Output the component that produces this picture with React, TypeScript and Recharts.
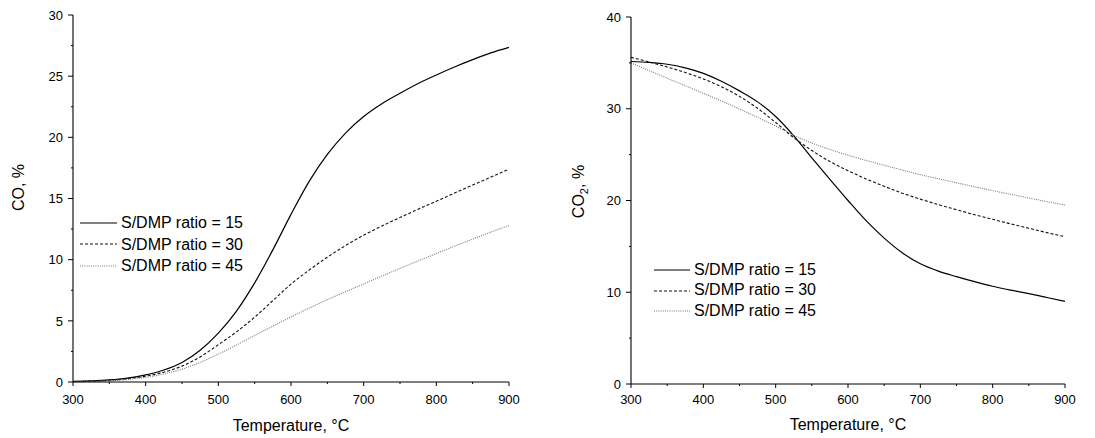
import React from 'react';
import { LineChart, Line, XAxis, YAxis, Legend, Label } from 'recharts';

const temps = [300, 325, 350, 375, 400, 425, 450, 475, 500, 525, 550, 575, 600, 625, 650, 675, 700, 725, 750, 775, 800, 825, 850, 875, 900];

const coS15 = [0.05, 0.09, 0.17, 0.32, 0.58, 0.98, 1.6, 2.6, 4.0, 5.8, 8.1, 10.8, 13.7, 16.4, 18.6, 20.35, 21.7, 22.75, 23.6, 24.4, 25.1, 25.75, 26.35, 26.9, 27.35];
const coS30 = [0.03, 0.07, 0.14, 0.27, 0.48, 0.8, 1.3, 2.05, 3.05, 4.1, 5.3, 6.65, 8.0, 9.15, 10.2, 11.15, 12.0, 12.75, 13.45, 14.12, 14.78, 15.44, 16.1, 16.75, 17.4];
const coS45 = [0.02, 0.05, 0.1, 0.2, 0.38, 0.65, 1.05, 1.6, 2.28, 3.03, 3.8, 4.57, 5.32, 6.04, 6.73, 7.38, 8.02, 8.66, 9.28, 9.9, 10.5, 11.1, 11.68, 12.25, 12.8];

const co2S15 = [35.15, 35.05, 34.85, 34.45, 33.85, 33.0, 31.95, 30.75, 29.15, 27.05, 24.65, 22.3, 20.0, 17.8, 15.9, 14.3, 13.1, 12.3, 11.7, 11.15, 10.65, 10.23, 9.85, 9.43, 9.0];
const co2S30 = [35.6, 35.1, 34.55, 33.95, 33.25, 32.4, 31.35, 30.05, 28.5, 26.85, 25.45, 24.25, 23.25, 22.35, 21.55, 20.8, 20.15, 19.55, 19.0, 18.45, 17.95, 17.45, 16.97, 16.5, 16.05];
const co2S45 = [35.0, 34.16, 33.33, 32.51, 31.69, 30.85, 29.98, 29.07, 28.11, 27.1, 26.26, 25.56, 24.94, 24.37, 23.84, 23.32, 22.82, 22.37, 21.93, 21.5, 21.08, 20.67, 20.27, 19.88, 19.5];

const seriesNames = ['S/DMP ratio = 15', 'S/DMP ratio = 30', 'S/DMP ratio = 45'];
const xTicks = [300, 350, 400, 450, 500, 550, 600, 650, 700, 750, 800, 850, 900];
const coTicks = [0, 2.5, 5, 7.5, 10, 12.5, 15, 17.5, 20, 22.5, 25, 27.5, 30];
const co2Ticks = [0, 5, 10, 15, 20, 25, 30, 35, 40];

const FONT = "Arial, 'Liberation Sans', Helvetica, sans-serif";

const styles = [
  { stroke: '#000', dash: undefined as string | undefined, width: 1.2 },
  { stroke: '#111', dash: '3 2', width: 1.1 },
  { stroke: '#777', dash: '1 1.2', width: 1.1 },
];

const buildRows = (a: number[], b: number[], c: number[]) =>
  temps.map((t, i) => ({ t, s15: a[i], s30: b[i], s45: c[i] }));

const coRows = buildRows(coS15, coS30, coS45);
const co2Rows = buildRows(co2S15, co2S30, co2S45);

const XTick = (props: any) => {
  const { x, y, payload, off } = props;
  const v = payload.value;
  const major = v % 100 === 0;
  return (
    <g>
      <line x1={x} x2={x} y1={y} y2={y + (major ? 4 : 2)} stroke="#000" strokeWidth={1} />
      {major && (
        <text x={x} y={y + off} textAnchor="middle" fontSize={13} fill="#000" fontFamily={FONT}>
          {v}
        </text>
      )}
    </g>
  );
};

const YTick = (props: any) => {
  const { x, y, payload, step } = props;
  const v = payload.value;
  const major = Math.abs(v / step - Math.round(v / step)) < 1e-6;
  return (
    <g>
      <line x1={x - (major ? 5 : 2)} x2={x} y1={y} y2={y} stroke="#000" strokeWidth={1} />
      {major && (
        <text x={x - 10} y={y} dy="0.36em" textAnchor="end" fontSize={13} fill="#000" fontFamily={FONT}>
          {v}
        </text>
      )}
    </g>
  );
};

const LegendBox = ({ lineLen, rowH }: { lineLen: number; rowH: number }) => (
  <div style={{ fontFamily: FONT, fontSize: 16, color: '#000' }}>
    {seriesNames.map((n, i) => (
      <div key={n} style={{ display: 'flex', alignItems: 'center', height: rowH, whiteSpace: 'nowrap' }}>
        <svg width={lineLen + 4} height={10} style={{ display: 'block' }}>
          <line x1={0} x2={lineLen} y1={5} y2={5} stroke={styles[i].stroke} strokeWidth={styles[i].width} strokeDasharray={styles[i].dash} />
        </svg>
        <span style={{ lineHeight: rowH + 'px' }}>{n}</span>
      </div>
    ))}
  </div>
);

type PanelProps = {
  rows: any[];
  yTicks: number[];
  yMax: number;
  yStep: number;
  margin: { top: number; right: number; bottom: number; left: number };
  yWidth: number;
  xHeight: number;
  tickOff: number;
  xTitleOff: number;
  yTitleX: number;
  yTitleDy: number;
  sub: boolean;
  legendLeft: number;
  legendTop: number;
  legendLine: number;
  legendRow: number;
};

const Panel = (p: PanelProps) => (
  <LineChart width={540} height={438} data={p.rows} margin={p.margin} style={{ background: '#fff' }}>
    <XAxis
      dataKey="t"
      type="number"
      domain={[300, 900]}
      ticks={xTicks}
      interval={0}
      height={p.xHeight}
      tickSize={0}
      tickMargin={0}
      tickLine={false}
      axisLine={{ stroke: '#000', strokeWidth: 1.1 }}
      tick={(tp: any) => <XTick {...tp} off={p.tickOff} />}
    >
      <Label
        content={(lp: any) => {
          const vb = lp.viewBox || { x: p.margin.left + p.yWidth, y: 438 - p.xHeight, width: 540 - p.margin.left - p.yWidth - p.margin.right, height: p.xHeight };
          return (
            <text x={vb.x + vb.width / 2} y={vb.y + p.xTitleOff} textAnchor="middle" fontSize={16} fill="#000" fontFamily={FONT}>
              Temperature, °C
            </text>
          );
        }}
      />
    </XAxis>
    <XAxis
      xAxisId="top"
      dataKey="t"
      type="number"
      orientation="top"
      domain={[300, 900]}
      height={0}
      tick={false}
      tickLine={false}
      axisLine={{ stroke: '#000', strokeWidth: 1.1 }}
    />
    <YAxis
      type="number"
      domain={[0, p.yMax]}
      ticks={p.yTicks}
      interval={0}
      width={p.yWidth}
      tickSize={0}
      tickMargin={0}
      tickLine={false}
      axisLine={{ stroke: '#000', strokeWidth: 1.1 }}
      tick={(tp: any) => <YTick {...tp} step={p.yStep} />}
    >
      <Label
        content={(lp: any) => {
          const vb = lp.viewBox || { x: p.margin.left, y: p.margin.top, width: p.yWidth, height: 438 - p.margin.top - p.xHeight };
          const cx = vb.x + p.yTitleX;
          const cy = vb.y + vb.height / 2 + p.yTitleDy;
          return (
            <text x={cx} y={cy} transform={`rotate(-90 ${cx} ${cy})`} textAnchor="middle" dy="0.36em" fontSize={16} fill="#000" fontFamily={FONT}>
              {p.sub ? (
                <>
                  CO<tspan fontSize={11} dy={4}>2</tspan>
                  <tspan dy={-4}>, %</tspan>
                </>
              ) : (
                'CO, %'
              )}
            </text>
          );
        }}
      />
    </YAxis>
    <YAxis
      yAxisId="right"
      orientation="right"
      type="number"
      domain={[0, p.yMax]}
      width={0}
      tick={false}
      tickLine={false}
      axisLine={{ stroke: '#000', strokeWidth: 1.1 }}
    />
    <Legend
      layout="horizontal"
      verticalAlign="middle"
      align="center"
      wrapperStyle={{ left: p.legendLeft, top: p.legendTop, width: 'auto', height: 'auto' }}
      content={() => <LegendBox lineLen={p.legendLine} rowH={p.legendRow} />}
    />
    {(['s15', 's30', 's45'] as const).map((k, i) => (
      <Line
        key={k}
        type="monotone"
        dataKey={k}
        name={seriesNames[i]}
        stroke={styles[i].stroke}
        strokeWidth={styles[i].width}
        strokeDasharray={styles[i].dash}
        dot={false}
        activeDot={false}
        isAnimationActive={false}
      />
    ))}
  </LineChart>
);

export default function App() {
  return (
    <div style={{ position: 'absolute', left: 0, top: 0, width: 1095, height: 438, background: '#fff' }}>
      <div style={{ position: 'absolute', left: 0, top: 0 }}>
        <Panel
          rows={coRows}
          yTicks={coTicks}
          yMax={30}
          yStep={5}
          margin={{ top: 15, right: 31, bottom: 0, left: 0 }}
          yWidth={73}
          xHeight={56}
          tickOff={22}
          xTitleOff={49}
          yTitleX={18.5}
          yTitleDy={-11}
          sub={false}
          legendLeft={80}
          legendTop={212}
          legendLine={37}
          legendRow={21.5}
        />
      </div>
      <div style={{ position: 'absolute', left: 555, top: 0 }}>
        <Panel
          rows={co2Rows}
          yTicks={co2Ticks}
          yMax={40}
          yStep={10}
          margin={{ top: 17, right: 30, bottom: 0, left: 0 }}
          yWidth={76}
          xHeight={54}
          tickOff={20}
          xTitleOff={46}
          yTitleX={23}
          yTitleDy={-9}
          sub={true}
          legendLeft={99}
          legendTop={259.5}
          legendLine={36}
          legendRow={20.8}
        />
      </div>
    </div>
  );
}
